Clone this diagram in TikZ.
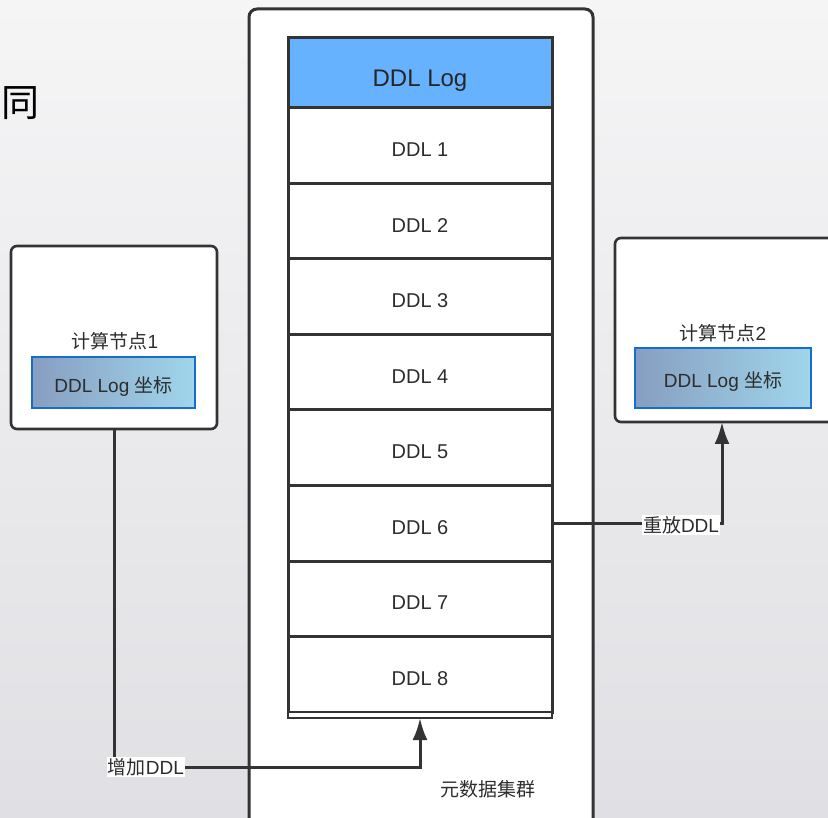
\documentclass[tikz,border=0pt]{standalone}
\usepackage{fontspec}
\setmainfont{Liberation Sans}
\newfontfamily\cjk{Noto Sans CJK SC}
\usetikzlibrary{arrows.meta}
\definecolor{lineC}{RGB}{51,51,51}
\definecolor{txtC}{RGB}{45,45,45}
\definecolor{hdrC}{RGB}{102,178,255}
\definecolor{gradL}{RGB}{135,158,192}
\definecolor{gradR}{RGB}{160,214,236}
\definecolor{innerB}{RGB}{22,110,200}
\definecolor{bgTop}{RGB}{245,245,246}
\definecolor{bgBot}{RGB}{224,224,228}
\tikzset{
  rowbox/.style={draw=lineC, line width=3pt, fill=white, minimum width=264pt, minimum height=75.5pt, inner sep=0pt, outer sep=0pt, font=\fontsize{20}{22}\selectfont, text=txtC, text height=22.3pt, text depth=0pt},
  hdrbox/.style={rowbox, fill=hdrC, minimum height=70pt, font=\fontsize{24}{26}\selectfont, text=black!85, text height=27pt, text depth=0pt},
  hostbox/.style={draw=lineC, line width=2.6pt, fill=white, rounded corners=6pt, inner sep=0pt, outer sep=0pt},
  coordbox/.style={draw=innerB, line width=2.2pt, left color=gradL, right color=gradR, inner sep=0pt, font=\fontsize{19}{21}\selectfont, text=txtC, text depth=0pt},
  lbl/.style={font=\fontsize{19}{21}\selectfont, text=txtC, inner sep=1pt},
  conn/.style={draw=lineC, line width=3pt},
  arr/.style={conn, -{Latex[length=22pt,width=15pt]}}
}
\begin{document}
\begin{tikzpicture}[x=1pt,y=-1pt]
\useasboundingbox (0,0) rectangle (828,818);
\clip (0,0) rectangle (828,818);
\shade[top color=bgTop, bottom color=bgBot] (0,0) rectangle (828,818);
% partial character at left
\node[anchor=west, inner sep=0pt, font=\cjk\fontsize{38}{40}\selectfont] (tong) at (1,103) {同};
% cluster box
\node[hostbox, line width=3pt, rounded corners=8pt, minimum width=344pt, minimum height=830pt, anchor=north west] (cluster) at (249,9) {};
\node[lbl, font=\cjk\fontsize{19}{21}\selectfont] (clusterlbl) at (488,789) {元数据集群};
% stack
\node[hdrbox] (hdr) at (420,73) {DDL Log};
\node[rowbox, anchor=north] (r1) at (hdr.south) {DDL 1};
\node[rowbox, anchor=north] (r2) at (r1.south) {DDL 2};
\node[rowbox, anchor=north] (r3) at (r2.south) {DDL 3};
\node[rowbox, anchor=north] (r4) at (r3.south) {DDL 4};
\node[rowbox, anchor=north] (r5) at (r4.south) {DDL 5};
\node[rowbox, anchor=north] (r6) at (r5.south) {DDL 6};
\node[rowbox, anchor=north] (r7) at (r6.south) {DDL 7};
\node[rowbox, anchor=north] (r8) at (r7.south) {DDL 8};
\node[draw=lineC, line width=2.4pt, fill=white, minimum width=264pt, minimum height=6pt, inner sep=0pt, outer sep=0pt, anchor=north] (strip) at (r8.south) {};
% compute node 1
\node[hostbox, minimum width=206pt, minimum height=183pt] (host1) at (114,337.5) {};
\node[lbl] (host1lbl) at (115,341) {{\cjk 计算节点}1};
\node[coordbox, minimum width=163pt, minimum height=51pt, text height=21pt] (c1) at (113.5,382.5) {DDL Log {\cjk 坐标}};
% compute node 2
\node[hostbox, minimum width=230pt, minimum height=184pt, anchor=north west] (host2) at (615,238) {};
\node[lbl] (host2lbl) at (723,333) {{\cjk 计算节点}2};
\node[coordbox, minimum width=176pt, minimum height=60pt, text height=19pt] (c2) at (723,378) {DDL Log {\cjk 坐标}};
% connectors
\coordinate (lb) at (114,767);
\coordinate (rt) at (722,525);
\draw[arr] (host1.south) -- (lb) -- (lb -| strip.south) -- (strip.south);
\draw[arr] (r6.east) -- (r6.east -| rt) -- (rt |- host2.south);
\node[lbl, fill=white] (addlbl) at (146,767) {{\cjk 增加}DDL};
\node[lbl, fill=white] (replbl) at (681,525) {{\cjk 重放}DDL};
\end{tikzpicture}
\end{document}
